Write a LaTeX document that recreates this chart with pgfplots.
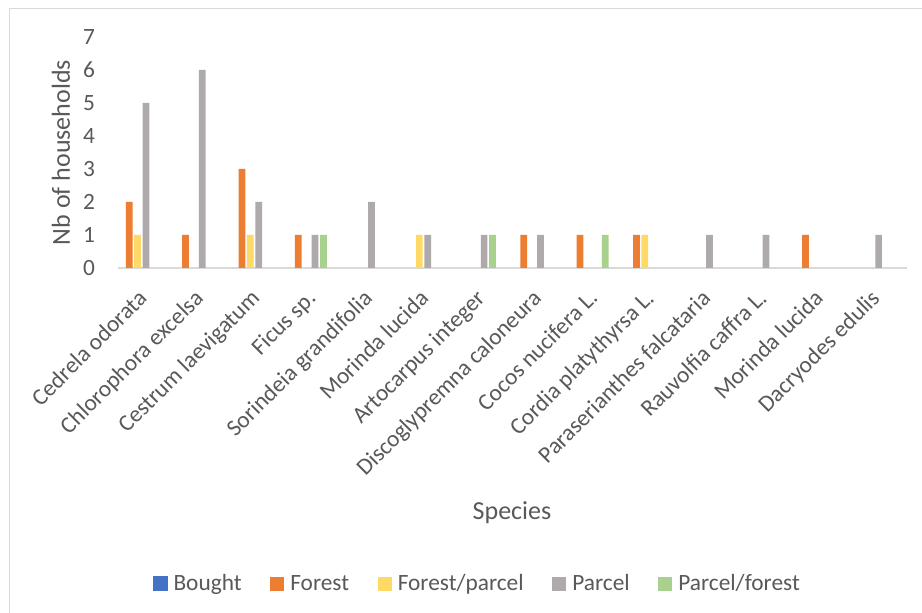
\documentclass[border=0pt]{standalone}
\usepackage{pgfplots}
\pgfplotsset{compat=1.18}
\usepackage{fontspec}
\setmainfont{Carlito}

\definecolor{txt}{HTML}{595959}
\definecolor{cBought}{HTML}{4472C4}
\definecolor{cForest}{HTML}{ED7D31}
\definecolor{cForPar}{HTML}{FFD966}
\definecolor{cParcel}{HTML}{AEAAAA}
\definecolor{cParFor}{HTML}{A9D18E}
\definecolor{framegray}{HTML}{D9D9D9}

% number of households per species and origin (index = species position)
\pgfplotstableread{
x y
0 2
1 1
2 3
3 1
7 1
8 1
9 1
12 1
}\forest
\pgfplotstableread{
x y
0 1
2 1
5 1
9 1
}\forestparcel
\pgfplotstableread{
x y
0 5
1 6
2 2
3 1
4 2
5 1
6 1
7 1
10 1
11 1
13 1
}\parcel
\pgfplotstableread{
x y
3 1
6 1
8 1
}\parcelforest

\begin{document}
\begin{tikzpicture}
\useasboundingbox (0,0) rectangle (691.5pt,459.75pt);
\fill[white] (0,0) rectangle (691.5pt,459.75pt);
\draw[framegray, line width=0.9pt] (7.1pt,0) -- (7.1pt,453.5pt) -- (691.5pt,453.5pt);
\begin{axis}[
  at={(88.35pt,258.75pt)}, anchor=south west,
  scale only axis, width=591.75pt, height=173.25pt,
  xmin=-0.5, xmax=13.5, ymin=0, ymax=7,
  xtick={0,...,13},
  xticklabels={Cedrela odorata, Chlorophora excelsa, Cestrum laevigatum, Ficus sp.,
    Sorindeia grandifolia, Morinda lucida, Artocarpus integer, Discoglypremna caloneura,
    Cocos nucifera L., Cordia platythyrsa L., Paraserianthes falcataria,
    Rauvolfia caffra L., Morinda lucida, Dacryodes edulis},
  ytick={0,...,7},
  axis x line*=bottom, axis y line*=left,
  y axis line style={draw=none},
  x axis line style={draw=framegray, line width=1.1pt},
  major tick length=0pt,
  /pgf/number format/assume math mode=true,
  tick label style={font=\fontsize{17.5pt}{20pt}\selectfont, text=txt},
  yticklabel style={anchor=east, inner sep=0pt, xshift=-17pt},
  xticklabel style={xshift=-7pt, yshift=-15pt, rotate=45, anchor=north east, inner sep=0pt},
  xlabel={Species}, ylabel={Nb of households},
  every axis x label/.style={at={(axis description cs:0.4996,-1.0606)}, anchor=center,
    font=\fontsize{19.5pt}{22pt}\selectfont, text=txt},
  every axis y label/.style={at={(axis description cs:-0.072,0.5)}, rotate=90, anchor=center,
    font=\fontsize{19.5pt}{22pt}\selectfont, text=txt},
  legend columns=-1,
  legend style={at={(axis description cs:0.4545,-1.3665)}, anchor=center, draw=none,
    fill=none, inner sep=0pt,
    font=\fontsize{17.5pt}{20pt}\selectfont, text=txt,
    nodes={inner xsep=0pt, inner ysep=1pt},
    /tikz/every odd column/.append style={column sep=4.5pt},
    /tikz/every even column/.append style={column sep=21.5pt}},
  sqbar/.style={ybar, bar width=0.119, draw=none, fill=#1,
    legend image code/.code={\fill[#1] (0pt,-5.25pt) rectangle (10.5pt,5.25pt);}},
]
\addlegendimage{legend image code/.code={\fill[cBought] (0pt,-5.25pt) rectangle (10.5pt,5.25pt);}}
\addlegendentry{Bought}
\addplot[sqbar=cForest, bar shift=-0.298] table {\forest};
\addlegendentry{Forest}
\addplot[sqbar=cForPar, bar shift=-0.149] table {\forestparcel};
\addlegendentry{Forest/parcel}
\addplot[sqbar=cParcel, bar shift=0] table {\parcel};
\addlegendentry{Parcel}
\addplot[sqbar=cParFor, bar shift=0.149] table {\parcelforest};
\addlegendentry{Parcel/forest}
\end{axis}
\end{tikzpicture}
\end{document}
